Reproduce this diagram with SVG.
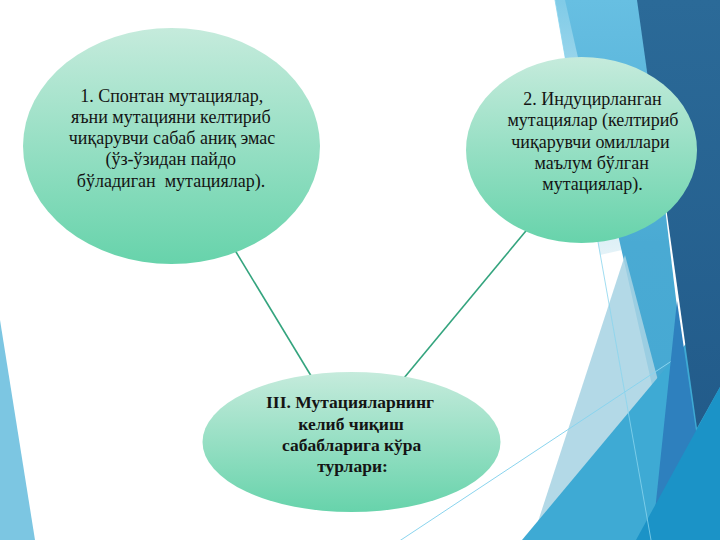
<svg xmlns="http://www.w3.org/2000/svg" width="720" height="540" viewBox="0 0 720 540">
<defs>
<linearGradient id="nodeGrad" x1="0" y1="0" x2="0" y2="1">
<stop offset="0" stop-color="#c5ebdc"/>
<stop offset="1" stop-color="#67d3ab"/>
</linearGradient>
<linearGradient id="bandGrad" x1="0" y1="0" x2="0" y2="540" gradientUnits="userSpaceOnUse">
<stop offset="0" stop-color="#67bfe2"/>
<stop offset="0.45" stop-color="#4aaad3"/>
<stop offset="1" stop-color="#42a8d3"/>
</linearGradient>
<linearGradient id="stripGrad" x1="0" y1="0" x2="0" y2="260" gradientUnits="userSpaceOnUse">
<stop offset="0" stop-color="#80cbe7"/>
<stop offset="1" stop-color="#e6f3f8"/>
</linearGradient>
<linearGradient id="darkGrad" x1="0" y1="0" x2="0" y2="430" gradientUnits="userSpaceOnUse">
<stop offset="0" stop-color="#2b6a98"/>
<stop offset="1" stop-color="#225b8a"/>
</linearGradient>
<style>
.node { fill: url(#nodeGrad); }
.lbl { font-family: "Liberation Serif", "Times New Roman", "DejaVu Serif", serif; font-size: 18px; fill: #141414; text-anchor: middle; }
.bold { font-weight: bold; font-size: 17.5px; }
.conn { stroke: #34a47e; stroke-width: 1.6; fill: none; }
.thin { stroke: #8ad4ee; stroke-width: 1; fill: none; }
</style>
</defs>
<rect width="720" height="540" fill="#ffffff"/>
<g id="background">
<polygon points="0,320 35,540 0,540" fill="#7cc6e2"/>
<polygon points="555,0 566,0 622,250 600,255" fill="url(#stripGrad)"/>
<polygon points="565,0 640,0 705,540 687,540" fill="url(#bandGrad)"/>
<polygon points="625,255 700,540 532,540" fill="#a8d3e4" fill-opacity="0.87"/>
<line class="thin" x1="400" y1="540.6" x2="720" y2="329"/>
<polygon points="522,540 720,303 720,540" fill="#3eaad4"/>
<polygon points="677,301 712,540 652,540" fill="#2e80be"/>
<polygon points="637,0 720,0 720,387 697,428" fill="url(#darkGrad)"/>
<polygon points="720,387 720,540 636,540" fill="#1b93c7"/>
<line class="thin" x1="555" y1="0" x2="651" y2="540" stroke-opacity="0.8"/>
</g>
<g id="connectors">
<line class="conn" x1="230" y1="242" x2="316" y2="384"/>
<line class="conn" x1="535" y1="220" x2="399" y2="384"/>
</g>
<g id="node-spontaneous">
<ellipse class="node" cx="171.5" cy="146" rx="148.5" ry="118"/>
<text class="lbl" xml:space="preserve"><tspan x="171.7" y="101.5">1. Спонтан мутациялар,</tspan><tspan x="170.8" y="122.8">яъни мутацияни келтириб</tspan><tspan x="172" y="144.1">чиқарувчи сабаб аниқ эмас</tspan><tspan x="170.8" y="165.4">(ўз-ўзидан пайдо</tspan><tspan x="171" y="186.7">бўладиган  мутациялар).</tspan></text>
</g>
<g id="node-induced">
<ellipse class="node" cx="581.5" cy="150" rx="115.5" ry="93"/>
<text class="lbl"><tspan x="592.5" y="105">2. Индуцирланган</tspan><tspan x="593" y="126.3">мутациялар (келтириб</tspan><tspan x="590.5" y="147.6">чиқарувчи омиллари</tspan><tspan x="591.7" y="168.9">маълум бўлган</tspan><tspan x="592.5" y="190.2">мутациялар).</tspan></text>
</g>
<g id="node-types">
<ellipse class="node" cx="351.5" cy="442" rx="149" ry="70"/>
<text class="lbl bold"><tspan x="350" y="408.3">III. Мутацияларнинг</tspan><tspan x="351" y="429.5">келиб чиқиш</tspan><tspan x="351.7" y="450.7">сабабларига кўра</tspan><tspan x="352.5" y="471.7">турлари:</tspan></text>
</g>
</svg>
